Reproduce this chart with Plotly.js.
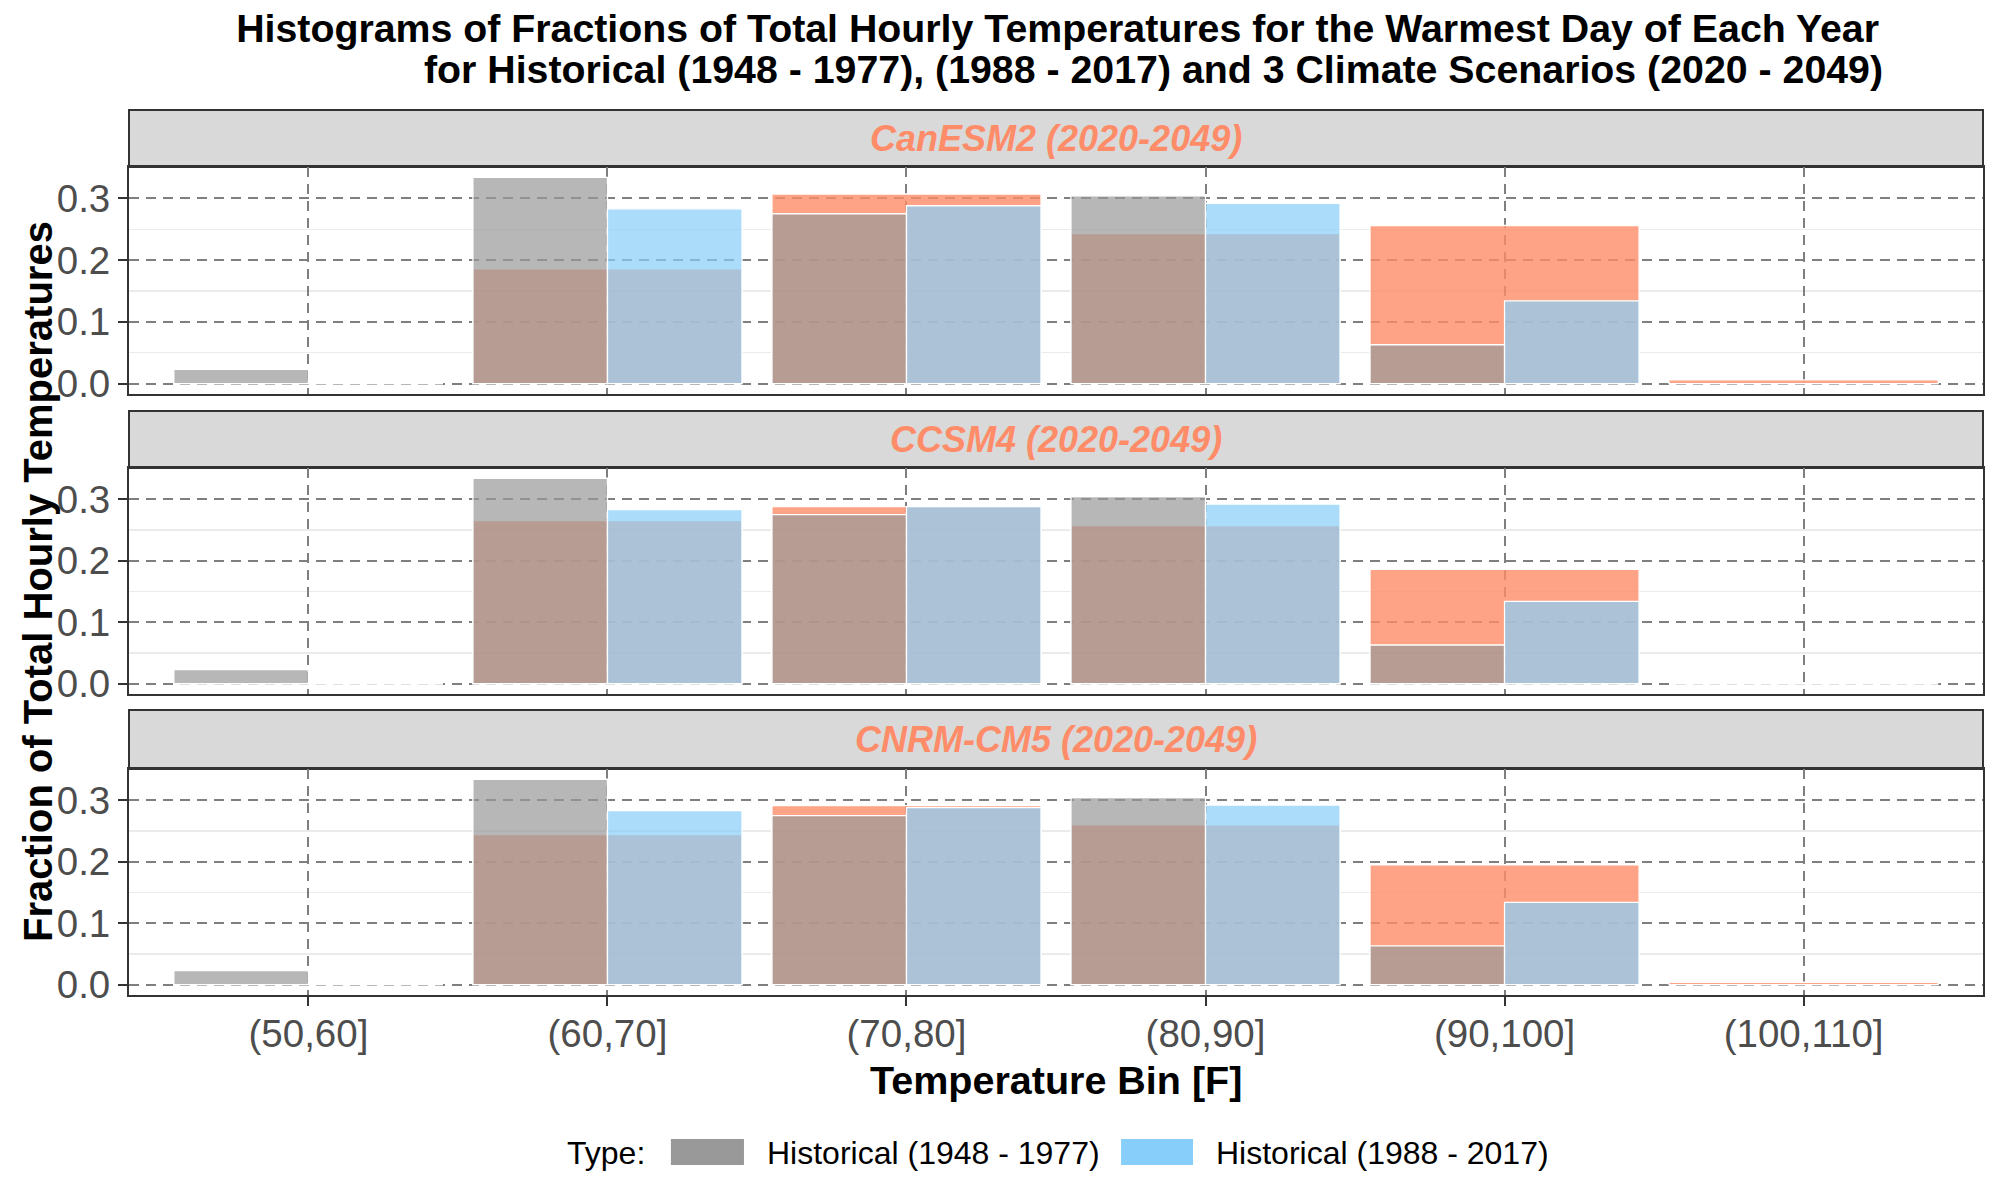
<!DOCTYPE html>
<html>
<head>
<meta charset="utf-8">
<script src="https://cdn.plot.ly/plotly-3.0.1.min.js"></script>
<style>
  html, body { margin: 0; padding: 0; background: #ffffff; }
  #chart { width: 2000px; height: 1200px; }
</style>
</head>
<body>
<div id="chart"></div>
<script>
// ---------- data ----------
const categories = ['(50,60]', '(60,70]', '(70,80]', '(80,90]', '(90,100]', '(100,110]'];
const typeNames = ['Historical (1948 - 1977)', 'Historical (1988 - 2017)'];
const hist1948 = [0.023, 0.334, 0.275, 0.304, 0.063, 0];
const hist1988 = [0, 0.283, 0.288, 0.292, 0.134, 0];
const scenarioNames = ['CanESM2 (2020-2049)', 'CCSM4 (2020-2049)', 'CNRM-CM5 (2020-2049)'];
const canesm2 = [0, 0.186, 0.307, 0.243, 0.256, 0.006];
const ccsm4 = [0, 0.265, 0.288, 0.257, 0.186, 0];
const cnrmcm5 = [0, 0.244, 0.291, 0.260, 0.195, 0.004];
const scenarioValues = [canesm2, ccsm4, cnrmcm5];
const titleLines = [
  'Histograms of Fractions of Total Hourly Temperatures for the Warmest Day of Each Year',
  'for Historical (1948 - 1977), (1988 - 2017) and 3 Climate Scenarios (2020 - 2049)'
];
const xTitle = 'Temperature Bin [F]';
const yTitle = 'Fraction of Total Hourly Temperatures';
const legendTitle = 'Type:';

// ---------- styling ----------
const FONT = '"Liberation Sans", Arial, sans-serif';
const colGrey = 'rgba(153,153,153,0.7)';
const colBlue = 'rgba(135,206,250,0.7)';
const colOrange = 'rgba(255,140,105,0.8)';
const stripText = '#FF8C69';
const yMax = Math.max(...hist1948, ...hist1988, ...canesm2, ...ccsm4, ...cnrmcm5);
const yRange = [-0.05 * yMax, 1.05 * yMax];

// panel geometry in paper fractions (plot area 110..995 px tall)
const plotDomains = [[0.6791, 0.9356], [0.3401, 0.5955], [0.0, 0.2554]];
const stripDomains = [[0.9356, 1.0], [0.5955, 0.6599], [0.2554, 0.3220]];

const traces = [];
const layout = {
  width: 2000, height: 1200,
  margin: {l: 129, r: 17, t: 110, b: 205, pad: 0},
  paper_bgcolor: '#ffffff', plot_bgcolor: '#ffffff',
  font: {family: FONT, color: '#000000'},
  barmode: 'overlay',
  showlegend: false,
  title: {
    text: titleLines[0],
    font: {family: FONT, size: 39.3, weight: 'bold', color: '#000000'},
    xref: 'container', yref: 'container',
    x: 0.9395, xanchor: 'right', y: 0.9767, yanchor: 'middle'
  },
  shapes: [],
  annotations: []
};

for (let p = 0; p < 3; p++) {
  const sfx = p === 0 ? '' : String(p + 1);
  const xa = 'x' + sfx, ya = 'y' + sfx;
  const common = {
    type: 'bar', x: categories, xaxis: xa, yaxis: ya,
    hoverinfo: 'skip', showlegend: false
  };
  traces.push(Object.assign({}, common, {
    name: scenarioNames[p], y: scenarioValues[p], width: 0.9, offset: -0.45,
    marker: {color: colOrange, line: {color: '#ffffff', width: 1.3}}
  }));
  traces.push(Object.assign({}, common, {
    name: typeNames[0], y: hist1948, width: 0.45, offset: -0.45,
    marker: {color: colGrey, line: {color: '#ffffff', width: 1.3}}
  }));
  traces.push(Object.assign({}, common, {
    name: typeNames[1], y: hist1988, width: 0.45, offset: 0,
    marker: {color: colBlue, line: {color: '#ffffff', width: 1.3}}
  }));

  const isBottom = p === 2;
  layout['xaxis' + sfx] = {
    type: 'category', categoryorder: 'array', categoryarray: categories,
    range: [-0.6, categories.length - 0.4], domain: [0, 1], anchor: ya,
    showgrid: true, gridcolor: '#7f7f7f', griddash: '10px,7px', gridwidth: 2,
    zeroline: false, showline: true, mirror: true, linecolor: '#333333', linewidth: 2,
    ticks: isBottom ? 'outside' : '', ticklen: 9, tickwidth: 2, tickcolor: '#333333',
    showticklabels: isBottom, ticklabelstandoff: isBottom ? -5 : 0,
    tickfont: {family: FONT, size: 38.5, color: '#4d4d4d'},
    fixedrange: true
  };
  layout['yaxis' + sfx] = {
    domain: plotDomains[p], anchor: xa, range: yRange,
    tick0: 0, dtick: 0.1, tickformat: '.1f',
    showgrid: true, gridcolor: '#7f7f7f', griddash: '10px,7px', gridwidth: 2,
    minor: {tick0: 0, dtick: 0.05, showgrid: true, gridcolor: '#ebebeb', gridwidth: 1.4, griddash: 'solid', ticks: ''},
    zeroline: false, showline: true, mirror: true, linecolor: '#333333', linewidth: 2,
    ticks: 'outside', ticklen: 9, tickwidth: 2, tickcolor: '#333333',
    tickfont: {family: FONT, size: 38.5, color: '#4d4d4d'},
    fixedrange: true
  };

  // facet strip
  layout.shapes.push({
    type: 'rect', xref: 'paper', yref: 'paper',
    x0: 0, x1: 1, y0: stripDomains[p][0], y1: stripDomains[p][1],
    fillcolor: '#d9d9d9', line: {color: '#333333', width: 2}, layer: 'below'
  });
  layout.annotations.push({
    xref: 'paper', yref: 'paper', x: 0.5,
    y: (stripDomains[p][0] + stripDomains[p][1]) / 2,
    xanchor: 'center', yanchor: 'middle', showarrow: false,
    text: scenarioNames[p],
    font: {family: FONT, size: 36, weight: 'bold', style: 'italic', color: stripText}
  });
}

// second title line
layout.annotations.push({
  xref: 'paper', yref: 'paper', x: 0.9471, y: 1.0463,
  xanchor: 'right', yanchor: 'middle', showarrow: false,
  text: titleLines[1],
  font: {family: FONT, size: 39.3, weight: 'bold', color: '#000000'}
});
// axis titles
layout.annotations.push({
  xref: 'paper', yref: 'paper', x: 0.5, y: -0.096,
  xanchor: 'center', yanchor: 'middle', showarrow: false,
  text: xTitle,
  font: {family: FONT, size: 39.5, weight: 'bold', color: '#000000'}
});
layout.annotations.push({
  xref: 'paper', yref: 'paper', x: -0.0491, y: 0.4678,
  xanchor: 'center', yanchor: 'middle', showarrow: false, textangle: -90,
  text: yTitle,
  font: {family: FONT, size: 40, weight: 'bold', color: '#000000'}
});
// legend (drawn manually so the keys have the reference's wide shape)
const legY = -0.1785;
layout.annotations.push({
  xref: 'paper', yref: 'paper', x: 0.2352, y: legY,
  xanchor: 'left', yanchor: 'middle', showarrow: false,
  text: legendTitle, font: {family: FONT, size: 32, color: '#000000'}
});
const keyX = [[0.2923, 0.3317], [0.5351, 0.5739]];
const labX = [0.3430, 0.5852];
const keyCols = ['#999999', '#87CEFA'];
for (let i = 0; i < 2; i++) {
  layout.shapes.push({
    type: 'rect', xref: 'paper', yref: 'paper',
    x0: keyX[i][0], x1: keyX[i][1], y0: -0.1921, y1: -0.1627,
    fillcolor: keyCols[i], line: {width: 0}
  });
  layout.annotations.push({
    xref: 'paper', yref: 'paper', x: labX[i], y: legY,
    xanchor: 'left', yanchor: 'middle', showarrow: false,
    text: typeNames[i], font: {family: FONT, size: 32, color: '#000000'}
  });
}

Plotly.newPlot('chart', traces, layout, {displayModeBar: false, staticPlot: true});
</script>
</body>
</html>
